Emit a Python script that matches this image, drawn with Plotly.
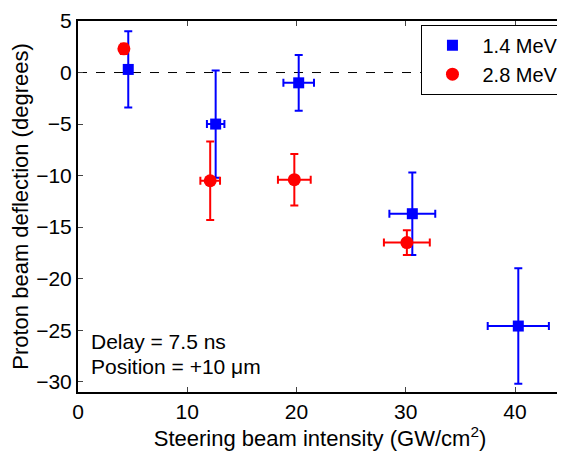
import plotly.graph_objects as go

# 1.4 MeV series
x_14 = [4.6, 12.6, 20.2, 30.6, 40.3]
y_14 = [0.3, -5.0, -1.0, -13.7, -24.6]
yerr_14 = [3.7, 5.2, 2.7, 4.0, 5.6]
xerr_14 = [0.0, 0.8, 1.4, 2.1, 2.8]

# 2.8 MeV series
x_28 = [4.2, 12.1, 19.8, 30.1]
y_28 = [2.3, -10.5, -10.4, -16.5]
yerr_28 = [0.5, 3.8, 2.5, 1.2]
xerr_28 = [0.0, 0.9, 1.5, 2.1]

font = "Liberation Sans"

fig = go.Figure()
fig.add_trace(go.Scatter(
    x=x_14, y=y_14, mode="markers", name="1.4 MeV",
    marker=dict(symbol="square", size=11, color="#0000ff"),
    error_y=dict(type="data", array=yerr_14, color="#0000ff", thickness=2, width=4),
    error_x=dict(type="data", array=xerr_14, color="#0000ff", thickness=2, width=4),
))
fig.add_trace(go.Scatter(
    x=x_28, y=y_28, mode="markers", name="2.8 MeV",
    marker=dict(symbol="circle", size=13, color="#ff0000"),
    error_y=dict(type="data", array=yerr_28, color="#ff0000", thickness=2, width=4),
    error_x=dict(type="data", array=xerr_28, color="#ff0000", thickness=2, width=4),
))

fig.add_shape(type="line", xref="paper", yref="y", x0=0, x1=1, y0=0, y1=0,
              line=dict(color="black", width=1, dash="dash"), layer="below")

fig.add_annotation(xref="paper", yref="paper", x=0.022, y=0.136, xanchor="left", yanchor="middle",
                   text="Delay = 7.5 ns", showarrow=False, font=dict(size=21, color="black", family=font))
fig.add_annotation(xref="paper", yref="paper", x=0.022, y=0.069, xanchor="left", yanchor="middle",
                   text="Position = +10 μm", showarrow=False, font=dict(size=21, color="black", family=font))

fig.update_layout(
    width=557, height=450,
    margin=dict(l=70, r=2, t=13, b=66),
    plot_bgcolor="white", paper_bgcolor="white",
    font=dict(family=font, size=21, color="black"),
    showlegend=True,
    legend=dict(x=1.003, y=0.99, xanchor="right", yanchor="top", bgcolor="white",
                bordercolor="black", borderwidth=1, font=dict(size=20, family=font),
                tracegroupgap=0, itemwidth=50),
    xaxis=dict(range=[0, 44.3], tickvals=[0, 10, 20, 30, 40], ticks="inside", ticklen=5,
               showline=True, linecolor="black", linewidth=2, mirror="ticks",
               showgrid=False, zeroline=False, automargin=False, ticklabeloverflow="allow",
               tickfont=dict(size=21, family=font),
               title=dict(text="Steering beam intensity (GW/cm<sup>2</sup>)", font=dict(size=22, family=font), standoff=6)),
    yaxis=dict(range=[-31, 5], tickvals=[5, 0, -5, -10, -15, -20, -25, -30], ticks="inside", ticklen=5,
               showline=True, linecolor="black", linewidth=2, mirror="ticks",
               showgrid=False, zeroline=False, automargin=False, ticklabeloverflow="allow",
               tickfont=dict(size=21, family=font),
               title=dict(text="Proton beam deflection (degrees)", font=dict(size=22, family=font), standoff=6)),
)

fig.write_html("out.html")
